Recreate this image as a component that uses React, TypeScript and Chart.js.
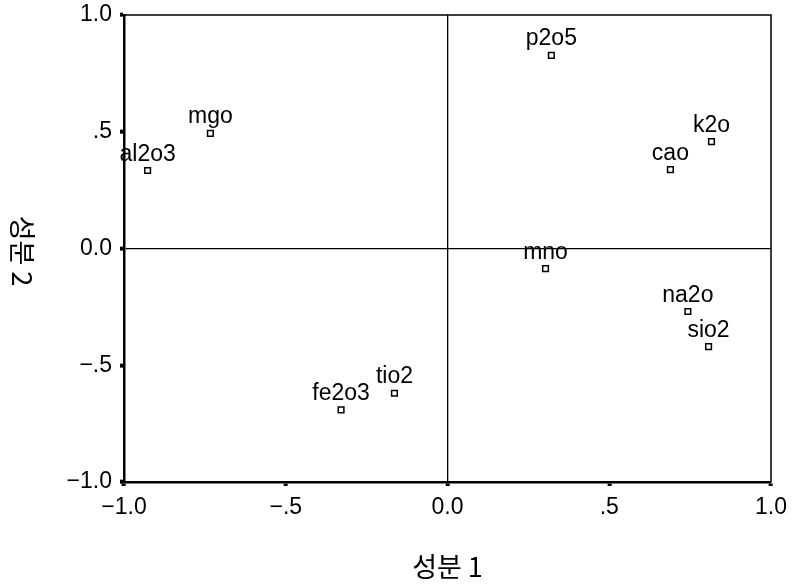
import React, { useEffect, useRef } from "react";
import { Chart, registerables } from "chart.js";

Chart.register(...registerables);

const names = ["al2o3", "mgo", "p2o5", "k2o", "cao", "mno", "na2o", "sio2", "fe2o3", "tio2"];
const comp1 = [-0.927, -0.733, 0.321, 0.816, 0.689, 0.303, 0.743, 0.807, -0.329, -0.164];
const comp2 = [0.334, 0.493, 0.827, 0.458, 0.338, -0.086, -0.27, -0.42, -0.691, -0.62];
const tickValues = [-1, -0.5, 0, 0.5, 1];
const tickLabels = ["\u22121.0", "\u2212.5", "0.0", ".5", "1.0"];
const xTitle = "성분 1";
const yTitle = "성분 2";

const FONT = "'Liberation Sans', Arial, sans-serif";
const KFONT = "'Noto Sans CJK KR', 'Liberation Sans', sans-serif";

const fmt = (v: number) => {
  const i = tickValues.findIndex((t) => Math.abs(t - v) < 1e-9);
  return i >= 0 ? tickLabels[i] : "";
};

const decorPlugin = {
  id: "decor",
  afterDatasetsDraw(chart: any) {
    const ctx = chart.ctx;
    const a = chart.chartArea;
    ctx.save();
    ctx.strokeStyle = "#000";
    ctx.lineWidth = 1.5;
    ctx.beginPath();
    ctx.moveTo(a.left, a.top);
    ctx.lineTo(a.right, a.top);
    ctx.lineTo(a.right, a.bottom);
    ctx.stroke();
    const meta = chart.getDatasetMeta(0);
    ctx.fillStyle = "#000";
    ctx.font = `23px ${FONT}`;
    ctx.textAlign = "center";
    ctx.textBaseline = "alphabetic";
    meta.data.forEach((el: any, i: number) => {
      ctx.fillText(names[i], el.x, el.y - 10);
    });
    ctx.font = `27px ${KFONT}`;
    ctx.textBaseline = "middle";
    ctx.fillText(xTitle, (a.left + a.right) / 2, 567);
    ctx.translate(22, 251);
    ctx.rotate(Math.PI / 2);
    ctx.fillText(yTitle, 0, 0);
    ctx.restore();
  },
};

export default function App() {
  const ref = useRef<HTMLCanvasElement | null>(null);
  useEffect(() => {
    if (!ref.current) return;
    const data = names.map((_, i) => ({ x: comp1[i], y: comp2[i] }));
    const gridColor = (c: any) => (c.tick && Math.abs(c.tick.value) < 1e-9 ? "#000" : "rgba(0,0,0,0)");
    const tickFont = { family: FONT, size: 23 };
    const chart = new Chart(ref.current, {
      type: "scatter",
      data: {
        datasets: [
          {
            data,
            pointStyle: "rect",
            pointRadius: 4,
            pointBorderWidth: 1.5,
            pointBackgroundColor: "#fff",
            pointBorderColor: "#000",
          },
        ],
      },
      options: {
        animation: false,
        responsive: false,
        devicePixelRatio: 1,
        layout: { padding: { top: 15, right: 23, left: 0, bottom: 0 } },
        plugins: { legend: { display: false }, tooltip: { enabled: false } },
        scales: {
          x: {
            type: "linear",
            min: -1,
            max: 1,
            afterFit: (s: any) => {
              s.height = 103;
              s.paddingLeft = 0;
              s.paddingRight = 0;
            },
            afterBuildTicks: (s: any) => {
              s.ticks = tickValues.map((v) => ({ value: v }));
            },
            ticks: {
              callback: (v: any) => fmt(Number(v)),
              color: "#000",
              font: tickFont,
              padding: 8,
              maxRotation: 0,
              autoSkip: false,
            },
            grid: {
              color: gridColor,
              lineWidth: 1.3,
              drawTicks: true,
              tickLength: 4,
              tickWidth: 4,
              tickColor: "#000",
            },
            border: { display: true, color: "#000", width: 2.5 },
          },
          y: {
            type: "linear",
            min: -1,
            max: 1,
            afterFit: (s: any) => {
              s.width = 124;
              s.paddingTop = 0;
              s.paddingBottom = 0;
            },
            afterBuildTicks: (s: any) => {
              s.ticks = tickValues.map((v) => ({ value: v }));
            },
            ticks: {
              callback: (v: any) => fmt(Number(v)),
              color: "#000",
              font: tickFont,
              padding: 8,
              autoSkip: false,
            },
            grid: {
              color: gridColor,
              lineWidth: 1.3,
              drawTicks: true,
              tickLength: 4,
              tickWidth: 4,
              tickColor: "#000",
            },
            border: { display: true, color: "#000", width: 2.5 },
          },
        },
      },
      plugins: [decorPlugin],
    });
    return () => chart.destroy();
  }, []);
  return (
    <div style={{ position: "fixed", left: 0, top: 0, width: 794, height: 585, background: "#fff" }}>
      <canvas ref={ref} width={794} height={585} style={{ width: 794, height: 585, display: "block" }} />
    </div>
  );
}
